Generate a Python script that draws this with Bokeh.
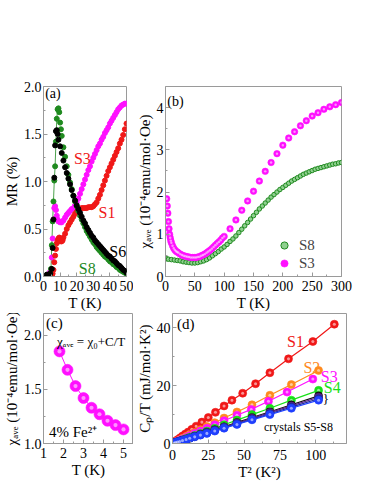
from bokeh.plotting import figure
from bokeh.layouts import row, column
from bokeh.models import FixedTicker, Label, Legend, LegendItem, Range1d, PrintfTickFormatter
from bokeh.embed import file_html
from bokeh.resources import INLINE

FONT = "Times"
GRAY = "#9a9a9a"

# ---------------- panel (a): MR vs T ----------------
a_T_S1 = [2, 3, 4, 5, 5.5, 6, 6.5, 7, 7.5, 8, 8.5, 9, 9.5, 10, 10.5, 11, 11.5, 12, 13, 14, 15, 16, 17, 18, 19, 20,
          21, 22, 23, 24, 25, 26, 27, 28, 29, 30, 31, 32, 33, 34, 35, 36, 37, 38, 39, 40, 41, 42, 43, 44, 45,
          46, 47, 48, 49, 50]
a_MR_S1 = [0.0, 0.0, 0.0, 0.01, 0.03, 0.07, 0.15, 0.22, 0.29, 0.35, 0.38, 0.40, 0.41, 0.40, 0.37, 0.37, 0.38, 0.41,
           0.45, 0.50, 0.54, 0.57, 0.60, 0.63, 0.66, 0.68, 0.70, 0.71, 0.72, 0.72, 0.72, 0.72, 0.73, 0.73, 0.73,
           0.74, 0.76, 0.78, 0.82, 0.86, 0.91, 0.96, 1.01, 1.06, 1.11, 1.15, 1.19, 1.23, 1.27, 1.31, 1.35, 1.40,
           1.44, 1.49, 1.55, 1.61]
a_T_S3 = [3, 4, 5, 5.5, 6, 6.5, 7, 7.5, 8, 8.5, 9, 10, 11, 12, 13, 14, 15, 16, 17, 18, 19, 20, 21, 22, 23, 24, 25,
          26, 27, 28, 29, 30, 31, 32, 33, 34, 35, 36, 37, 38, 39, 40, 41, 42, 43, 44, 45, 46, 47, 48, 49, 50]
a_MR_S3 = [0.02, 0.05, 0.20, 0.40, 0.60, 0.72, 0.74, 0.70, 0.64, 0.60, 0.58, 0.57, 0.57, 0.59, 0.62, 0.65, 0.67,
           0.69, 0.71, 0.72, 0.75, 0.78, 0.82, 0.87, 0.92, 0.97, 1.02, 1.07, 1.12, 1.16, 1.21, 1.25, 1.29, 1.33,
           1.37, 1.40, 1.44, 1.47, 1.51, 1.54, 1.57, 1.61, 1.64, 1.67, 1.70, 1.73, 1.76, 1.78, 1.80, 1.81, 1.82, 1.82]
a_T_S6 = [2, 3, 4, 5, 5.5, 6, 6.5, 7, 7.5, 8, 8.5, 9, 10, 11, 12, 13, 14, 15, 16, 17, 18, 19, 20, 21, 22, 23, 24,
          25, 26, 27, 28, 29, 30, 31, 32, 33, 34, 35, 36, 37, 38, 39, 40, 41, 42, 43, 44, 45, 46, 47, 48, 49, 50]
a_MR_S6 = [0.02, 0.02, 0.03, 0.08, 0.30, 0.60, 1.04, 1.38, 1.53, 1.54, 1.50, 1.44, 1.37, 1.30, 1.22, 1.15, 1.09,
           1.03, 0.97, 0.91, 0.85, 0.80, 0.75, 0.71, 0.67, 0.63, 0.59, 0.56, 0.52, 0.49, 0.46, 0.43, 0.41, 0.38,
           0.36, 0.34, 0.32, 0.30, 0.28, 0.26, 0.24, 0.22, 0.21, 0.19, 0.17, 0.16, 0.14, 0.12, 0.11, 0.09, 0.07,
           0.06, 0.04]
a_T_S8 = [2, 3, 4, 4.5, 5, 5.5, 6, 6.5, 7, 7.5, 8, 8.5, 9, 9.5, 10, 10.5, 11, 12, 13, 14, 15, 16, 17, 18, 19, 20,
          21, 22, 23, 24, 25, 26, 27, 28, 29, 30, 31, 32, 33, 34, 35, 36, 37, 38, 39, 40, 41, 42, 43, 44, 45,
          46, 47, 48, 49, 50]
a_MR_S8 = [0.0, 0.0, 0.03, 0.08, 0.33, 0.58, 0.79, 1.01, 1.16, 1.42, 1.66, 1.76, 1.77, 1.73, 1.62, 1.55, 1.48,
           1.36, 1.26, 1.16, 1.07, 0.99, 0.92, 0.85, 0.79, 0.74, 0.69, 0.64, 0.60, 0.56, 0.52, 0.48, 0.45, 0.42,
           0.39, 0.36, 0.34, 0.31, 0.29, 0.27, 0.25, 0.23, 0.21, 0.20, 0.18, 0.16, 0.15, 0.13, 0.12, 0.10, 0.09,
           0.07, 0.06, 0.05, 0.04, 0.03]

# ---------------- panel (b): chi_ave vs T ----------------
b_T_S8 = [2, 5, 10, 15, 20, 25, 30, 35, 40, 45, 50, 55, 60, 65, 70, 75, 80, 85, 90, 95, 100, 105, 110, 115, 120,
          125, 130, 135, 140, 145, 150, 155, 160, 165, 170, 175, 180, 185, 190, 195, 200, 205, 210, 215, 220,
          225, 230, 235, 240, 245, 250, 255, 260, 265, 270, 275, 280, 285, 290, 295, 300]
b_chi_S8 = [0.42, 0.41, 0.40, 0.39, 0.38, 0.37, 0.35, 0.34, 0.33, 0.32, 0.32, 0.33, 0.35, 0.37, 0.40, 0.44, 0.49,
            0.54, 0.59, 0.65, 0.70, 0.76, 0.83, 0.89, 0.96, 1.04, 1.12, 1.20, 1.28, 1.36, 1.44, 1.52, 1.60, 1.67,
            1.74, 1.81, 1.88, 1.94, 2.00, 2.06, 2.11, 2.16, 2.21, 2.26, 2.30, 2.34, 2.38, 2.42, 2.45, 2.48, 2.51,
            2.54, 2.56, 2.58, 2.60, 2.62, 2.64, 2.66, 2.67, 2.69, 2.70]
b_T_S3 = [2, 3, 4, 5, 6, 7, 8, 9, 10, 12, 14, 16, 18, 20, 22, 25, 28, 31, 34, 37, 40, 43, 46, 49, 52, 55, 58, 61,
          64, 67, 70, 73, 76, 79, 82, 85, 88, 91, 94, 97, 100, 110, 120, 130, 140, 150, 160, 170, 180, 190, 200,
          210, 220, 230, 240, 250, 260, 270, 280, 290, 300]
b_chi_S3 = [1.84, 1.67, 1.50, 1.30, 1.13, 1.00, 0.92, 0.85, 0.80, 0.73, 0.67, 0.63, 0.60, 0.58, 0.56, 0.53, 0.51,
            0.49, 0.48, 0.47, 0.46, 0.45, 0.45, 0.45, 0.45, 0.46, 0.47, 0.49, 0.51, 0.53, 0.56, 0.59, 0.62, 0.66,
            0.70, 0.74, 0.78, 0.82, 0.86, 0.91, 0.95, 1.13, 1.34, 1.57, 1.79, 2.02, 2.26, 2.49, 2.70, 2.91, 3.11,
            3.28, 3.43, 3.57, 3.69, 3.80, 3.88, 3.96, 4.02, 4.07, 4.12]

# ---------------- panel (c): chi_ave vs T (low T, 4% Fe2+) ----------------
c_T = [1.8, 2.2, 2.6, 3.0, 3.4, 3.8, 4.2, 4.6, 5.0]
c_chi = [1.85, 1.68, 1.53, 1.42, 1.33, 1.27, 1.21, 1.17, 1.13]

# ---------------- panel (d): Cp/T vs T^2 ----------------
d_T2_S1 = [113, 98, 81, 68, 58, 49, 41.5, 36, 30, 25, 20.5, 16.5, 13.5, 11, 9, 7, 5.5, 4.2, 3, 2, 1.2]
d_C_S1 = [41.3, 35.3, 29.3, 24.5, 20.7, 17.4, 15.0, 13.0, 10.8, 9.0, 7.4, 6.0, 4.9, 4.0, 3.3, 2.6, 2.0, 1.5, 1.1,
          0.7, 0.4]
d_T2 = [102, 83, 68, 55.5, 45, 36, 29.5, 24, 19.5, 15.5, 12, 9.5, 7, 5, 3.5, 2.2, 1.2]
d_T2_S3 = [98, 80, 67, 55, 45, 36, 29.5, 24, 19.5, 15.5, 12, 9.5, 7, 5, 3.5, 2.2, 1.2]
d_C_S2 = [25.3, 20.4, 16.7, 13.4, 10.9, 8.8, 7.2, 5.9, 4.8, 3.8, 3.0, 2.4, 1.8, 1.3, 0.9, 0.6, 0.3]
d_C_S3 = [22.3, 17.8, 14.6, 11.8, 9.8, 7.9, 6.5, 5.3, 4.3, 3.5, 2.7, 2.1, 1.6, 1.1, 0.8, 0.5, 0.3]
d_C_S4 = [18.4, 15.0, 12.2, 10.0, 8.1, 6.5, 5.3, 4.3, 3.5, 2.8, 2.2, 1.7, 1.3, 0.9, 0.6, 0.4, 0.2]
d_C_S5 = [16.5, 13.4, 11.0, 9.0, 7.3, 5.8, 4.8, 3.9, 3.2, 2.5, 1.9, 1.5, 1.1, 0.8, 0.6, 0.4, 0.2]
d_C_S6 = [16.0, 13.0, 10.7, 8.7, 7.1, 5.7, 4.6, 3.8, 3.1, 2.4, 1.9, 1.5, 1.1, 0.8, 0.6, 0.4, 0.2]
d_C_S7 = [15.5, 12.6, 10.3, 8.4, 6.8, 5.5, 4.5, 3.7, 3.0, 2.4, 1.8, 1.4, 1.1, 0.8, 0.5, 0.3, 0.2]
d_C_S8 = [15.0, 12.2, 10.0, 8.2, 6.6, 5.3, 4.3, 3.5, 2.9, 2.3, 1.8, 1.4, 1.0, 0.7, 0.5, 0.3, 0.2]

RED = "#f01818"
MAG = "#ff10ff"
DGREEN = "#1f8a1f"
ORANGE = "#ff8a1e"
BGREEN = "#18e018"


def make_fig(w, h, xr, yr, xt, xm, yt, ym, xlabel, ylabel, mb, yfmt=None, xstand=(4, 1)):
    p = figure(width=w, height=h, x_range=Range1d(*xr), y_range=Range1d(*yr),
               output_backend="svg", toolbar_location=None,
               min_border_left=mb[0], min_border_right=mb[1], min_border_top=mb[2], min_border_bottom=mb[3])
    p.xgrid.visible = False
    p.ygrid.visible = False
    p.outline_line_color = GRAY
    p.outline_line_width = 1
    p.background_fill_color = "white"
    p.border_fill_color = "white"
    for ax in (p.xaxis[0], p.yaxis[0]):
        ax.axis_line_color = GRAY
        ax.major_tick_line_color = GRAY
        ax.minor_tick_line_color = GRAY
        ax.major_tick_in = 4
        ax.major_tick_out = 0
        ax.minor_tick_in = 2
        ax.minor_tick_out = 0
        ax.major_label_text_font = FONT
        ax.major_label_text_font_size = "14px"
        ax.major_label_text_color = "black"
        ax.axis_label_text_font = FONT
        ax.axis_label_text_font_size = "15px"
        ax.axis_label_text_font_style = "normal"
        ax.axis_label_text_color = "black"
    p.yaxis.major_label_standoff = 2
    p.yaxis.axis_label_standoff = 1
    p.xaxis.major_label_standoff = xstand[0]
    p.xaxis.axis_label_standoff = xstand[1]
    p.xaxis.ticker = FixedTicker(ticks=xt, minor_ticks=xm)
    p.yaxis.ticker = FixedTicker(ticks=yt, minor_ticks=ym)
    if yfmt:
        p.yaxis.formatter = PrintfTickFormatter(format=yfmt)
    p.xaxis.axis_label = xlabel
    p.yaxis.axis_label = ylabel
    return p


def label(p, x, y, text, color="black", size="16px", align="left"):
    p.add_layout(Label(x=x, y=y, text=text, text_color=color, text_font=FONT, text_font_size=size,
                       text_baseline="middle", text_align=align))


def spheres(p, x, y, color, size, line=None):
    r = p.scatter(x, y, size=size, fill_color=color, line_color=line or color, line_width=0.6)
    p.scatter(x, y, size=size * 0.38, fill_color="white", fill_alpha=0.55, line_alpha=0)
    return r


# ---- (a)
pa = make_fig(133, 313, (0, 50), (0, 2.0), [0, 10, 20, 30, 40, 50], [5, 15, 25, 35, 45],
              [0, 0.5, 1.0, 1.5, 2.0], [0.25, 0.75, 1.25, 1.75], "T (K)", "MR (%)", (0, 7, 84, 0), "%.1f")
pa.line(a_T_S8[:13], a_MR_S8[:13], line_color=DGREEN, line_width=0.8)
pa.scatter(a_T_S3, a_MR_S3, size=5, fill_color=MAG, line_color=MAG)
pa.scatter(a_T_S1, a_MR_S1, size=5, fill_color=RED, line_color=RED)
pa.scatter(a_T_S8, a_MR_S8, size=5, fill_color=DGREEN, line_color=DGREEN)
pa.scatter(a_T_S6, a_MR_S6, size=5, fill_color="black", line_color="black")
label(pa, 1, 1.93, "(a)", size="14px")
label(pa, 18.3, 1.24, "S3", RED)
label(pa, 33.2, 0.67, "S1", RED)
label(pa, 39.6, 0.26, "S6", "black")
label(pa, 21.3, 0.08, "S8", DGREEN)

# ---- (b)
pb = make_fig(225, 313, (0, 300), (0, 4.5), [0, 50, 100, 150, 200, 250, 300], [25, 75, 125, 175, 225, 275],
              [0, 1, 2, 3, 4], [0.5, 1.5, 2.5, 3.5], "T (K)", "χₐᵥₑ (10⁻⁴emu/mol·Oe)", (0, 17, 86, 0))
rb8 = pb.scatter(b_T_S8, b_chi_S8, size=4.5, fill_color="#8fd08f", line_color=DGREEN, line_width=1)
rb3 = spheres(pb, b_T_S3, b_chi_S3, MAG, 6.5)
label(pb, 3, 4.15, "(b)", size="14px")
leg = Legend(items=[LegendItem(label="S8", renderers=[rb8]), LegendItem(label="S3", renderers=[rb3])],
             location=(110, 4), orientation="vertical", background_fill_alpha=0, border_line_alpha=0,
             padding=0, margin=0, spacing=0, glyph_width=18, glyph_height=18, label_height=18,
             label_standoff=6, label_text_font=FONT, label_text_font_size="15px")
pb.add_layout(leg, "center")

# ---- (c)
pc = make_fig(133, 169, (1, 5.5), (1.0, 2.2), [1, 2, 3, 4, 5], [1.5, 2.5, 3.5, 4.5, 5.5],
              [1.0, 1.5, 2.0], [1.25, 1.75], "T (K)", "χₐᵥₑ (10⁻⁴emu/mol·Oe)", (0, 0, 0, 0), "%.1f")
pc.line(c_T, c_chi, line_color=MAG, line_width=1)
spheres(pc, c_T, c_chi, MAG, 11)
label(pc, 1.13, 2.11, "(c)", size="15px")
label(pc, 1.68, 1.94, "χₐᵥₑ = χ₀+C/T", size="13px")
label(pc, 1.27, 1.11, "4% Fe²⁺", size="15px")

# ---- (d)
pd = make_fig(225, 169, (0, 121.5), (0, 45), [0, 25, 50, 75, 100], [12.5, 37.5, 62.5, 87.5, 112.5],
              [0, 20, 40], [10, 30], "T² (K²)", "Cₚ/T (mJ/mol·K²)", (0, 12, 0, 39), None, (6, 1))
series_d = [
    (d_T2_S1, d_C_S1, RED),
    (d_T2, d_C_S2, ORANGE),
    (d_T2_S3, d_C_S3, MAG),
    (d_T2, d_C_S4, BGREEN),
    (d_T2, d_C_S5, "#111111"),
    (d_T2, d_C_S6, "#5a1f8a"),
    (d_T2, d_C_S7, "#1a2a9a"),
    (d_T2, d_C_S8, "#1f3fff"),
]
for xs, ys, col in series_d:
    pd.line(xs, ys, line_color=col, line_width=1.2)
    spheres(pd, xs, ys, col, 8)
label(pd, 3.2, 41.3, "(d)", size="15px")
label(pd, 80, 35.2, "S1", RED)
label(pd, 91.4, 26.3, "S2", ORANGE)
label(pd, 103.6, 23.2, "S3", MAG)
label(pd, 105.7, 19.5, "S4", BGREEN)
label(pd, 105.0, 15.6, "}", "black", "13px")
label(pd, 88, 5.8, "crystals S5-S8", "black", "12px", "center")

layout = column(row(pa, pb), row(pc, pd))
open("out.html", "w").write(file_html(layout, INLINE))
